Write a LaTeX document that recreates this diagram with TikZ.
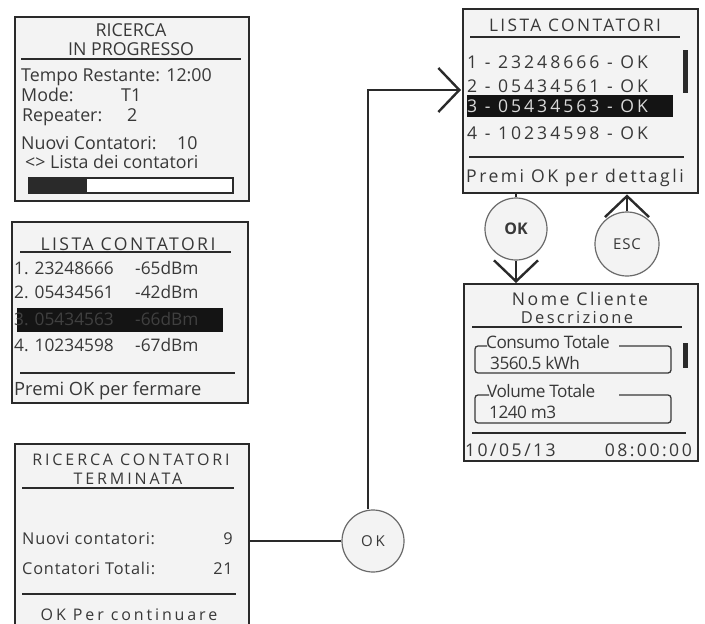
\documentclass[tikz,border=0pt]{standalone}
\usepackage{fontspec}
\setmainfont{Open Sans}
\newfontfamily\spA[LetterSpace=6]{Open Sans}
\newfontfamily\spB[LetterSpace=14]{Open Sans}
\newfontfamily\spE[LetterSpace=17]{Open Sans}
\newfontfamily\spC[LetterSpace=18]{Open Sans}
\newfontfamily\spD[LetterSpace=5]{Open Sans}
\newfontfamily\spN[LetterSpace=-3]{Open Sans}
\usetikzlibrary{arrows.meta,calc}
\definecolor{ink}{HTML}{383838}
\definecolor{edge}{HTML}{2A2A2A}
\definecolor{scr}{HTML}{F3F3F3}
\begin{document}
\begin{tikzpicture}[x=1pt,y=-1pt,
  screen/.style={draw=edge, line width=2.4pt, fill=scr, inner sep=0pt, anchor=north west},
  t/.style={text=ink, inner sep=0pt, font=\fontsize{17.8}{20}\selectfont},
  tr/.style={text=ink, inner sep=0pt, font=\fontsize{17.3}{20}\selectfont},
  tw/.style={text=ink, inner sep=0pt, font=\fontsize{17.6}{20}\selectfont\spB},
  tq/.style={text=ink, inner sep=0pt, font=\fontsize{17.6}{20}\selectfont\spE},
  th/.style={text=ink, inner sep=0pt, font=\fontsize{16}{19}\selectfont\spC},
  tb/.style={text=ink, inner sep=0pt, font=\fontsize{16.3}{19}\selectfont\spD},
  tf/.style={text=ink, inner sep=0pt, font=\fontsize{17.2}{19}\selectfont\spN},
  rule/.style={draw=edge, line width=2.4pt},
  frame/.style={draw=ink, line width=1.3pt, rounded corners=3pt},
  btn/.style={circle, draw=ink!75, line width=1.2pt, fill=scr, minimum size=62pt, inner sep=0pt, text=ink},
  conn/.style={draw=edge, line width=2.4pt},
  barb/.style={-{Straight Barb[length=21pt,width=44pt]}}]
\useasboundingbox (0,0) rectangle (705,624);

% ---------- screen 1 ----------
\node[screen, minimum width=234pt, minimum height=184pt] (s1) at (14,16) {};
\node[t] (s1t1) at (131,30) {RICERCA};
\node[t] (s1t2) at (131,49) {IN PROGRESSO};
\draw[rule] (21,59) -- (241,59);
\node[t, anchor=mid west] (s1a) at (21,79) {Tempo Restante: 12:00};
\node[t, anchor=mid west] (s1b) at (21,99) {Mode:};
\node[t, anchor=mid west] (s1b2) at (121,99) {T1};
\node[t, anchor=mid west] (s1c) at (22,119) {Repeater:};
\node[t, anchor=mid west] (s1c2) at (127,119) {2};
\node[t, anchor=mid west] (s1d) at (21,147) {Nuovi Contatori:};
\node[t, anchor=mid west] (s1d2) at (177,147) {10};
\node[t, anchor=mid west] (s1e) at (25,166) {<> Lista dei contatori};
\draw[draw=edge, line width=2.4pt, fill=white] (29,178) rectangle (233,193);
\fill[edge] (29,178) rectangle (87,193);

% ---------- screen 2 ----------
\node[screen, minimum width=236pt, minimum height=181pt] (s2) at (11,221) {};
\node[tw] (s2t) at (128,244) {LISTA CONTATORI};
\draw[rule] (20,252) -- (231,252);
\fill[black!92] (17,308) rectangle (223,332);
\node[tr, anchor=mid west] (r1a) at (14,272) {1. 23248666};
\node[tr, anchor=mid west] (r1b) at (135,272) {-65dBm};
\node[tr, anchor=mid west] (r2a) at (14,296) {2. 05434561};
\node[tr, anchor=mid west] (r2b) at (135,296) {-42dBm};
\node[tr, anchor=mid west, text=black!75] (r3a) at (14,323) {3. 05434563};
\node[tr, anchor=mid west, text=black!75] (r3b) at (135,323) {-66dBm};
\node[tr, anchor=mid west] (r4a) at (14,349) {4. 10234598};
\node[tr, anchor=mid west] (r4b) at (135,349) {-67dBm};
\draw[rule] (20,373) -- (235,373);
\node[t, anchor=mid west, font=\fontsize{18.3}{20}\selectfont] (s2f) at (14,393) {Premi OK per fermare};

% ---------- screen 3 ----------
\node[screen, minimum width=234pt, minimum height=190pt] (s3) at (14,443) {};
\node[th] (s3t1) at (131,460) {RICERCA CONTATORI};
\node[th] (s3t2) at (128,479) {TERMINATA};
\draw[rule] (22,488) -- (234,488);
\node[tb, anchor=mid west] (s3a) at (22,542) {Nuovi contatori:};
\node[tb, anchor=mid east] (s3a2) at (233,542) {9};
\node[tb, anchor=mid west] (s3b) at (22,572) {Contatori Totali:};
\node[tb, anchor=mid east] (s3b2) at (233,572) {21};
\draw[rule] (22,594) -- (236,594);
\node[th, anchor=base] (s3f) at (129,620) {OK Per continuare};

% ---------- screen 4 ----------
\node[screen, minimum width=235pt, minimum height=184pt] (s4) at (462,8) {};
\node[tw, font=\fontsize{17.3}{20}\selectfont\spB] (s4t) at (575,25) {LISTA CONTATORI};
\draw[rule] (470,37) -- (680,37);
\fill[black!92] (467,95) rectangle (673,117);
\node[tq, anchor=mid west] (q1) at (467,66) {1 - 23248666 - OK};
\node[tq, anchor=mid west] (q2) at (467,90) {2 - 05434561 - OK};
\node[tq, anchor=mid west, text=white!85!black] (q3) at (467,110) {3 - 05434563 - OK};
\node[tq, anchor=mid west] (q4) at (467,137) {4 - 10234598 - OK};
\fill[edge] (683,50) rectangle (688,93);
\draw[rule] (469,157) -- (684,157);
\node[tw, anchor=mid west] (s4f) at (466,180) {Premi OK per dettagli};

% ---------- screen 5 ----------
\node[screen, minimum width=234pt, minimum height=177pt] (s5) at (463,283) {};
\node[tw] (s5t1) at (580,299) {Nome Cliente};
\node[tw, font=\fontsize{16.5}{19}\selectfont\spB] (s5t2) at (577,318) {Descrizione};
\draw[rule] (472,327) -- (682,327);
\draw[frame] (487,346) -- (475,346) -- (475,373) -- (671,373) -- (671,346) -- (619,346);
\node[tf, anchor=mid west] (c1) at (486,346) {Consumo Totale};
\node[tf, anchor=mid west] (c2) at (490,367) {3560.5 kWh};
\fill[edge] (683,343) rectangle (688,368);
\draw[frame] (489,395) -- (475,395) -- (475,423) -- (671,423) -- (671,395) -- (619,395);
\node[tf, anchor=mid west] (c3) at (487,395) {Volume Totale};
\node[tf, anchor=mid west] (c4) at (489,416) {1240 m3};
\draw[rule] (472,433) -- (686,433);
\node[tw, anchor=mid west] (s5f1) at (465,454) {10/05/13};
\node[tw, anchor=mid east] (s5f2) at (692,454) {08:00:00};

% ---------- buttons ----------
\node[btn, font=\fontsize{15}{17}\selectfont\spC] (okA) at (373,541) {OK};
\node[btn, font=\bfseries\fontsize{16}{18}\selectfont] (okB) at (516,229) {OK};
\node[btn, minimum size=64pt, font=\fontsize{15}{17}\selectfont\spA] (esc) at (627,244) {ESC};

% ---------- connectors ----------
\coordinate (in4) at (461,90);
\draw[conn] (okA.west) -- (okA.west -| s3.east);
\draw[conn, barb] ([xshift=-5pt]okA.north) |- (in4);
\draw[conn] (okB.north) -- (okB.north |- s4.south);
\draw[conn, barb] (okB.south) -- (okB.south |- s5.north);
\draw[conn, barb] (esc.north) -- (esc.north |- s4.south);
\end{tikzpicture}
\end{document}
